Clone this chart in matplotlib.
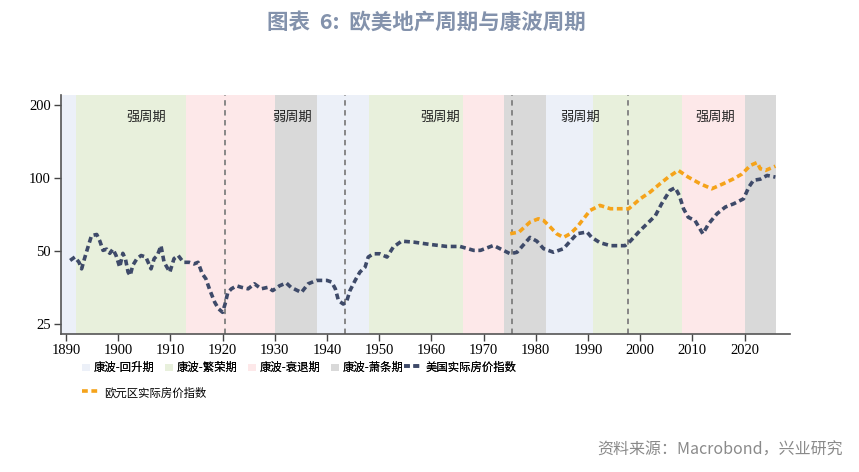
import matplotlib
matplotlib.use('Agg')
import matplotlib.pyplot as plt
from matplotlib.patches import Patch, Rectangle
from matplotlib.lines import Line2D
from matplotlib.legend_handler import HandlerPatch

plt.rcParams['font.family'] = ['Noto Sans CJK SC', 'DejaVu Sans']

# 美国实际房价指数
us_year = [1890.8, 1891.7, 1892.5, 1893.0, 1893.6, 1894.3, 1894.9, 1895.9, 1896.5, 1897.1,
           1897.8, 1898.4, 1899.0, 1899.6, 1900.3, 1900.9, 1901.4, 1901.9, 1902.3, 1902.8,
           1903.6, 1904.4, 1905.3, 1906.3, 1906.9, 1907.5, 1908.2, 1908.8, 1909.9, 1910.7,
           1911.5, 1912.5, 1913.6, 1914.5, 1915.3, 1916.1, 1916.8, 1917.6, 1918.5, 1919.2,
           1920.0, 1920.5, 1921.0, 1921.7, 1922.7, 1923.6, 1924.9, 1926.1, 1927.4, 1928.7,
           1929.6, 1930.9, 1932.2, 1933.1, 1935.1, 1936.4, 1938.0, 1940.0, 1940.9, 1941.6,
           1942.2, 1943.1, 1943.7, 1944.4, 1945.4, 1946.3, 1947.3, 1947.9, 1948.9, 1950.1,
           1951.5, 1952.7, 1954.3, 1956.6, 1959.8, 1963.0, 1965.5, 1968.1, 1969.4, 1971.9,
           1973.8, 1975.1, 1976.4, 1977.6, 1978.9, 1980.2, 1981.5, 1983.4, 1985.3, 1986.6,
           1987.9, 1989.8, 1990.7, 1992.3, 1994.3, 1995.8, 1997.1, 1998.1, 2000.0, 2001.3,
           2002.9, 2004.1, 2005.7, 2006.7, 2007.5, 2008.3, 2009.2, 2010.5, 2012.0, 2013.1,
           2014.7, 2016.3, 2017.9, 2019.8, 2020.8, 2021.7, 2023.0, 2024.3, 2025.9]
us_val = [45.8, 47.3, 45.0, 42.3, 47.0, 52.7, 58.0, 58.6, 55.0, 50.4,
          51.0, 49.0, 51.0, 48.0, 43.0, 49.0, 46.4, 41.0, 39.7, 43.7,
          46.6, 48.0, 47.3, 42.3, 46.6, 48.0, 52.7, 45.0, 41.0, 46.6,
          48.0, 45.0, 45.0, 44.3, 45.0, 40.4, 38.5, 34.4, 30.8, 29.0,
          28.0, 30.4, 33.8, 35.0, 36.0, 35.5, 35.0, 36.7, 35.0, 35.5,
          34.4, 36.0, 37.0, 35.5, 33.8, 36.7, 37.9, 37.9, 37.3, 35.0,
          31.3, 30.3, 30.7, 34.4, 37.9, 41.0, 43.0, 47.3, 48.8, 48.8,
          47.3, 52.0, 55.0, 54.5, 53.3, 52.3, 52.3, 50.4, 50.4, 52.8,
          50.4, 48.8, 49.5, 53.0, 57.0, 55.0, 51.2, 49.5, 51.2, 55.0,
          59.0, 60.0, 57.0, 54.2, 52.7, 52.7, 52.7, 55.0, 60.9, 64.8,
          70.0, 78.4, 89.0, 91.3, 84.8, 74.8, 69.0, 66.9, 59.0, 64.8,
          71.3, 76.0, 78.4, 82.2, 91.8, 98.0, 99.0, 102.6, 101.0]

# 欧元区实际房价指数
eu_year = [1975.1, 1976.8, 1978.9, 1980.5, 1981.5, 1982.8, 1984.0, 1985.3, 1986.6, 1987.9,
           1990.4, 1992.3, 1994.3, 1995.8, 1997.8, 2000.0, 2001.9, 2003.8, 2005.4, 2007.3,
           2009.2, 2011.5, 2013.7, 2015.9, 2017.9, 2019.5, 2021.1, 2022.4, 2023.0, 2024.0,
           2025.9]
eu_val = [59.0, 60.0, 65.9, 68.0, 66.9, 62.8, 59.0, 57.0, 59.0, 62.8,
          73.6, 77.2, 74.8, 74.8, 74.8, 82.2, 87.6, 94.8, 101.0, 107.6,
          101.0, 94.8, 90.4, 94.8, 99.4, 104.0, 112.8, 116.0, 109.3, 107.6,
          112.0]

# 康波阶段
band_start = [1889, 1892, 1913, 1930, 1938, 1948, 1966, 1974, 1982, 1991, 2008, 2020]
band_end = [1892, 1913, 1930, 1938, 1948, 1966, 1974, 1982, 1991, 2008, 2020, 2026]
band_phase = [0, 1, 2, 3, 0, 1, 2, 3, 0, 1, 2, 3]
phase_names = ['康波-回升期', '康波-繁荣期', '康波-衰退期', '康波-萧条期']
phase_colors = ['#ECF0F8', '#E8F0DC', '#FDE8E9', '#D9D9D9']

cycle_lines = [1920.5, 1943.5, 1975.5, 1997.7]
cycle_labels = ['强周期', '弱周期', '强周期', '弱周期', '强周期']
cycle_label_x = [1905.3, 1933.3, 1961.7, 1988.5, 2014.4]

US_COLOR = '#3E4A69'
EU_COLOR = '#F5A31A'
DASH = (0, (1.6, 1.0))

fig = plt.figure(figsize=(8.59, 4.72), dpi=100)
ax = fig.add_axes([0.0707, 0.2924, 0.849, 0.5063])

for s, e, p in zip(band_start, band_end, band_phase):
    ax.axvspan(s, e, color=phase_colors[p], lw=0, zorder=0)
for x in cycle_lines:
    ax.axvline(x, color='#7f7f7f', lw=1.3, linestyle=(0, (3, 2.5)), zorder=1)
for x, t in zip(cycle_label_x, cycle_labels):
    ax.text(x, 178, t, ha='center', va='center', fontsize=9.5, color='#222222')

ax.plot(us_year, us_val, color=US_COLOR, lw=2.6, linestyle=DASH, zorder=3)
ax.plot(eu_year, eu_val, color=EU_COLOR, lw=2.6, linestyle=DASH, zorder=2)

ax.set_yscale('log')
ax.set_ylim(22.8, 220)
ax.set_xlim(1889, 2028.7)
ax.set_yticks([25, 50, 100, 200])
ax.set_yticklabels(['25', '50', '100', '200'])
ax.minorticks_off()
ax.set_xticks(range(1890, 2021, 10))
for lab in ax.get_xticklabels() + ax.get_yticklabels():
    lab.set_fontfamily('Liberation Serif')
    lab.set_fontsize(10.5)
ax.tick_params(direction='out', length=5, width=1, color='#444444', pad=2)
for sp in ['top', 'right']:
    ax.spines[sp].set_visible(False)
for sp in ['left', 'bottom']:
    ax.spines[sp].set_color('#555555')
    ax.spines[sp].set_linewidth(1.2)


def small_square(legend, orig_handle, xdescent, ydescent, width, height, fontsize):
    side = height * 0.9
    return Rectangle((width - xdescent - side, -ydescent), side, side)


class LongDash:
    # dashed line handle that reaches a bit left of its box
    def legend_artist(self, legend, orig_handle, fontsize, handlebox):
        x0, y0 = handlebox.xdescent, handlebox.ydescent
        w, h = handlebox.width, handlebox.height
        line = Line2D([x0 - 4.5, x0 + w], [y0 + h / 2, y0 + h / 2],
                      color=orig_handle.get_color(), lw=2.6, linestyle=DASH,
                      transform=handlebox.get_transform())
        handlebox.add_artist(line)
        return line


hmap = {Patch: HandlerPatch(patch_func=small_square), Line2D: LongDash()}
handles = [Patch(facecolor=c, edgecolor='none') for c in phase_colors]
handles.append(Line2D([], [], color=US_COLOR))
labels = phase_names + ['美国实际房价指数']
leg1 = fig.legend(handles, labels, loc='upper left', bbox_to_anchor=(0.0857, 0.243), ncol=5,
                  frameon=False, fontsize=8.2, handlelength=1.0, handleheight=0.8,
                  handletextpad=0.35, columnspacing=0.6, borderaxespad=0,
                  handler_map=hmap)
leg2 = fig.legend([Line2D([], [], color=EU_COLOR)], ['欧元区实际房价指数'],
                  loc='upper left', bbox_to_anchor=(0.0975, 0.19), frameon=False,
                  fontsize=8.2, handlelength=1.0, handleheight=0.8, handletextpad=0.35,
                  borderaxespad=0, handler_map=hmap)
fig.add_artist(leg1)

fig.text(0.496, 0.953, '图表  6:  欧美地产周期与康波周期', ha='center', va='center',
         fontsize=15.5, fontweight='bold', color='#8392AC')
fig.text(0.981, 0.047, '资料来源：Macrobond，兴业研究', ha='right', va='center',
         fontsize=11.5, color='#8A8A8A')

fig.savefig('out.png', dpi=100)
